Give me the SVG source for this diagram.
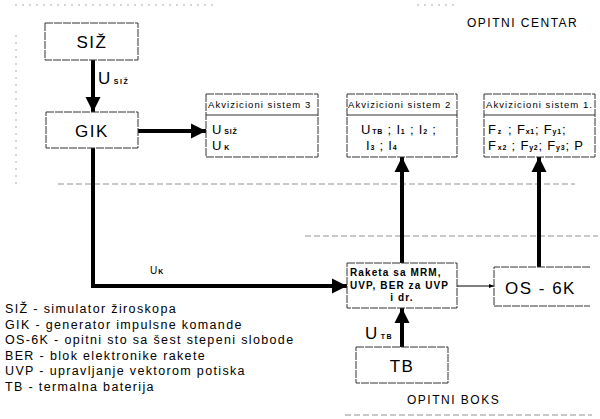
<svg xmlns="http://www.w3.org/2000/svg" width="600" height="419" viewBox="0 0 600 419">
<style>
text{font-family:"Liberation Sans",Arial,sans-serif;fill:#000}
.box{fill:#fff;stroke:#333;stroke-width:1;stroke-dasharray:8 1}
.big{font-size:17px;letter-spacing:1.5px}
.hdr{font-size:9.5px;letter-spacing:1.05px}
.val{font-size:13px;letter-spacing:0.8px}
.sub{font-size:7px;font-weight:bold}
.rk{font-size:10px;font-weight:bold;letter-spacing:1.1px}
.leg{font-size:12.5px;letter-spacing:1.35px}
.lbl{font-size:12px;letter-spacing:1.5px}
.dash{stroke:#777;stroke-width:0.8;stroke-dasharray:6 3;fill:none}
.dot{stroke:#999;stroke-width:0.8;stroke-dasharray:2 5;fill:none}
.thick{stroke:#000;stroke-width:4;fill:none}
.thin{stroke:#000;stroke-width:1;fill:none}
</style>
<defs>
<marker id="ah" viewBox="0 0 10 10" refX="10" refY="5" markerWidth="3.8" markerHeight="3.8" orient="auto" markerUnits="strokeWidth">
<path d="M0,0 L10,5 L0,10 z" fill="#000"/>
</marker>
<marker id="ahs" viewBox="0 0 10 10" refX="10" refY="5" markerWidth="7" markerHeight="5" orient="auto" markerUnits="strokeWidth">
<path d="M0,1 L10,5 L0,9 z" fill="#000"/>
</marker>
</defs>
<rect width="600" height="419" fill="#fff"/>
<g id="frame">
<path class="dot" d="M15,5 H215 M417,5 H458 M16,35 V185"/>
<path class="dash" d="M58,184 H575 M305,236 H598 M345,415 H592"/>
<text x="467" y="27" class="lbl">OPITNI CENTAR</text>
<text x="407" y="404" class="lbl">OPITNI BOKS</text>
</g>
<g id="connectors">
<path class="thick" d="M93,60 V112" marker-end="url(#ah)"/>
<path class="thick" d="M138,131 H206" marker-end="url(#ah)"/>
<path class="thick" d="M93,148 V286 H347" marker-end="url(#ah)"/>
<path class="thick" d="M402,263 V157" marker-end="url(#ah)"/>
<path class="thick" d="M539,267 V157" marker-end="url(#ah)"/>
<path class="thick" d="M402,347 V308" marker-end="url(#ah)"/>
<path class="thin" d="M457,286 H494" marker-end="url(#ahs)"/>
<text x="98" y="84" class="big">U<tspan class="sub" dx="2" dy="0">SIŽ</tspan></text>
<text x="150" y="274" font-size="10px">U<tspan class="sub" font-size="6px" dx="1">K</tspan></text>
<text x="365" y="339" class="big">U<tspan class="sub" dx="2">TB</tspan></text>
</g>
<g id="siz">
<rect class="box" x="45" y="23" width="93" height="37"/>
<text x="92" y="48" class="big" text-anchor="middle">SIŽ</text>
</g>
<g id="gik">
<rect class="box" x="46" y="112" width="92" height="36"/>
<text x="92" y="137" class="big" text-anchor="middle">GIK</text>
</g>
<g id="akv3">
<rect class="box" x="206" y="94" width="112" height="63"/>
<line x1="206" y1="115" x2="318" y2="115" stroke="#333"/>
<text x="208" y="108" class="hdr">Akvizicioni sistem 3</text>
<text x="212" y="134" class="val">U<tspan class="sub" dx="2">SIŽ</tspan></text>
<text x="212" y="150" class="val">U<tspan class="sub" dx="2">K</tspan></text>
</g>
<g id="akv2">
<rect class="box" x="347" y="94" width="110" height="63"/>
<line x1="347" y1="115" x2="457" y2="115" stroke="#333"/>
<text x="348" y="108" class="hdr">Akvizicioni sistem 2</text>
<text x="361" y="134" class="val">U<tspan class="sub" dx="1">TB</tspan> ; I<tspan class="sub">1</tspan> ; I<tspan class="sub">2</tspan> ;</text>
<text x="366" y="150" class="val">I<tspan class="sub">3</tspan> ; I<tspan class="sub">4</tspan></text>
</g>
<g id="akv1">
<rect class="box" x="484" y="94" width="111" height="63"/>
<line x1="484" y1="115" x2="595" y2="115" stroke="#333"/>
<text x="486" y="108" class="hdr">Akvizicioni sistem 1.</text>
<text x="488" y="134" class="val">F<tspan class="sub" dx="1">z</tspan><tspan dx="6">;</tspan> F<tspan class="sub">x1</tspan>; F<tspan class="sub">y1</tspan>;</text>
<text x="488" y="150" class="val">F<tspan class="sub" dx="1">x2</tspan> ; F<tspan class="sub">y2</tspan>; F<tspan class="sub">y3</tspan>; P</text>
</g>
<g id="raketa">
<rect class="box" x="347" y="263" width="110" height="45"/>
<text x="350" y="276" class="rk">Raketa sa MRM,</text>
<text x="350" y="289" class="rk">UVP, BER za UVP</text>
<text x="402" y="301" class="rk" text-anchor="middle">i dr.</text>
</g>
<g id="os6k">
<path d="M590,267 H494 V306 H590" fill="#fff" stroke="#333" stroke-dasharray="8 1"/>
<text x="505" y="294" class="big" font-size="18px">OS - 6K</text>
</g>
<g id="tb">
<rect class="box" x="356" y="347" width="92" height="36"/>
<text x="402" y="372" class="big" text-anchor="middle">TB</text>
</g>
<g id="legend">
<text x="5" y="313" class="leg">SIŽ - simulator žiroskopa</text>
<text x="5" y="329" class="leg">GIK - generator impulsne komande</text>
<text x="5" y="344" class="leg">OS-6K - opitni sto sa šest stepeni slobode</text>
<text x="5" y="360" class="leg">BER - blok elektronike rakete</text>
<text x="5" y="375" class="leg">UVP - upravljanje vektorom potiska</text>
<text x="5" y="391" class="leg">TB - termalna baterija</text>
</g>
</svg>
